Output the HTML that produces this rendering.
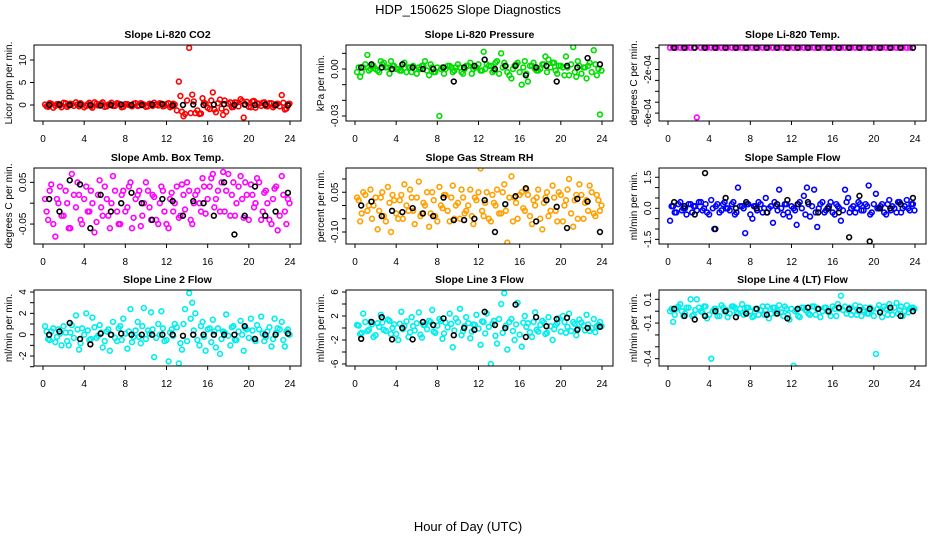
<!DOCTYPE html>
<html><head><meta charset="utf-8"><style>
body{margin:0;background:#fff;}
svg{display:block;font-family:"Liberation Sans",sans-serif;}
</style></head><body>
<svg id="chart" width="936" height="540" viewBox="0 0 936 540" xmlns="http://www.w3.org/2000/svg">
<text x="468" y="14" font-size="13" text-anchor="middle">HDP_150625  Slope Diagnostics</text>
<text x="468" y="531" font-size="13" text-anchor="middle">Hour of Day (UTC)</text>
</svg>
<script>
const hoursColor=[0.2,0.5,0.8,1.2,1.5,1.8,2.2,2.5,2.8,3.2,3.5,3.8,4.2,4.5,4.8,5.2,5.5,5.8,6.2,6.5,6.8,7.2,7.5,7.8,8.2,8.5,8.8,9.2,9.5,9.8,10.2,10.5,10.8,11.2,11.5,11.8,12.2,12.5,12.8,13.2,13.5,13.8,14.2,14.5,14.8,15.2,15.5,15.8,16.2,16.5,16.8,17.2,17.5,17.8,18.2,18.5,18.8,19.2,19.5,19.8,20.2,20.5,20.8,21.2,21.5,21.8,22.2,22.5,22.8,23.2,23.5,23.8];
const hoursDense=[0.35,0.65,1.0,1.35,1.65,2.0,2.35,2.65,3.0,3.35,3.65,4.0,4.35,4.65,5.0,5.35,5.65,6.0,6.35,6.65,7.0,7.35,7.65,8.0,8.35,8.65,9.0,9.35,9.65,10.0,10.35,10.65,11.0,11.35,11.65,12.0,12.35,12.65,13.0,13.35,13.65,14.0,14.35,14.65,15.0,15.35,15.65,16.0,16.35,16.65,17.0,17.35,17.65,18.0,18.35,18.65,19.0,19.35,19.65,20.0,20.35,20.65,21.0,21.35,21.65,22.0,22.35,22.65,23.0,23.35,23.65,23.95];
const hoursBlack=[0.6,1.6,2.6,3.6,4.6,5.6,6.6,7.6,8.6,9.6,10.6,11.6,12.6,13.6,14.6,15.6,16.6,17.6,18.6,19.6,20.6,21.6,22.6,23.8];
const xTicks=[0,4,8,12,16,20,24];

const co2Color=[0.1,-0.4,0.3,-0.2,0.2,-0.5,0.4,-0.1,0.2,0.6,-0.3,0.1,-0.2,0.5,-0.6,0.3,-0.1,0.6,-0.3,0.2,-0.2,0.4,0.1,-0.4,0.2,-0.1,0.3,-0.2,0.4,0.1,-0.3,0.2,0.5,-0.1,0.3,-0.2,0.4,-0.3,0.1,5.2,-1.5,-2.0,12.7,2.3,-1.8,-2.0,1.5,0.3,-0.9,2.8,-1.6,1.2,-2.2,-1.5,0.6,-0.4,0.5,1.3,-2.8,0.7,-0.5,0.9,0.4,-0.2,0.6,-0.3,0.4,-0.2,0.3,2.2,-1.0,0.2];
const co2Dense=[-0.3,0.4,-0.6,0.2,-0.1,0.5,-0.4,0.3,-0.2,0.1,0.4,-0.5,0.2,-0.3,0.6,-0.1,0.3,-0.4,0.1,0.5,-0.2,0.3,-0.5,0.2,0.0,-0.3,0.4,-0.1,0.2,-0.4,0.3,-0.2,0.1,0.4,-0.3,0.2,-0.5,0.3,-1.2,2.0,-2.5,1.0,-1.8,0.8,-1.2,-1.9,0.5,-0.6,1.0,-1.0,0.4,-0.8,1.0,0.3,-0.5,0.6,-0.3,0.9,0.2,-0.4,0.8,-0.6,0.3,0.5,-0.2,0.4,-0.5,0.2,-0.3,0.5,-0.8,0.3];
const co2Black=[0,0.1,0,0.1,0,-0.1,0,0.1,0,0,0.1,0.2,-0.1,0,0.1,0,0.1,0.2,0,0.1,0,0.1,0,-0.1];
const pressColor=[-0.002,-0.005,0.001,0.009,0.000,0.002,-0.001,0.005,0.004,0.001,0.005,0.002,0.000,-0.001,0.004,0.001,-0.002,0.000,0.001,0.002,0.005,-0.004,0.001,-0.002,-0.030,0.001,0.000,0.002,-0.002,0.001,0.001,-0.003,0.002,0.004,0.000,0.001,-0.001,0.011,0.003,0.002,-0.001,0.005,0.010,0.004,-0.002,-0.006,0.002,0.004,-0.010,0.005,-0.008,0.002,0.000,-0.001,0.003,0.008,0.006,0.004,-0.001,0.002,0.001,0.008,-0.004,0.014,-0.005,0.002,0.001,-0.006,0.004,0.012,-0.004,-0.029];
const pressDense=[0.001,-0.002,0.003,-0.001,0.002,0.000,-0.002,0.003,0.001,-0.003,0.002,0.000,-0.001,0.003,-0.002,0.001,0.002,-0.003,0.000,0.002,-0.001,0.003,-0.002,0.001,0.000,-0.003,0.002,0.001,-0.001,0.003,-0.002,0.000,0.002,-0.003,0.001,0.003,-0.001,0.000,0.002,-0.002,0.004,-0.003,0.001,0.002,-0.004,0.000,0.003,-0.002,0.001,-0.003,0.002,0.004,-0.001,0.000,0.003,-0.002,0.001,0.004,-0.003,0.002,-0.004,0.001,0.003,-0.002,0.005,-0.003,0.001,0.002,-0.002,0.003,0.000,-0.001];
const pressBlack=[0.001,0.003,0.001,0.000,0.003,0.001,0.000,0.000,0.001,-0.008,0.001,0.002,0.006,0.000,0.002,0.002,-0.004,0.001,0.002,-0.008,0.002,0.001,0.007,0.003];
const tempColor=[0,0,0,0,0,0,0,0,-0.00064,0,0,0,0,0,0,0,0,0,0,0,0,0,0,0,0,0,0,0,0,0,0,0,0,0,0,0,0,0,0,0,0,0,0,0,0,0,0,0,0,0,0,0,0,0,0,0,0,0,0,0,0,0,0,0,0,0,0,0,0,0,0,0];
const tempDense=[];
const tempBlack=[0,0,0,0,0,0,0,0,0,0,0,0,0,0,0,0,0,0,0,0,0,0,0,0];
const ambColor=[0.01,-0.04,0.045,-0.08,0.0,-0.03,0.03,-0.06,0.07,-0.01,0.02,-0.05,0.04,-0.02,0.0,-0.045,0.055,-0.03,0.01,-0.06,0.065,-0.02,-0.05,0.03,-0.01,0.05,-0.035,0.02,-0.055,0.0,0.03,-0.04,0.015,-0.05,0.04,-0.02,-0.06,0.025,0.0,-0.035,0.045,-0.015,0.03,-0.05,0.02,0.0,0.06,-0.025,0.04,0.07,0.01,-0.02,0.075,0.03,-0.03,0.05,0.0,0.065,-0.035,0.02,0.045,-0.01,0.06,-0.04,0.025,0.0,-0.05,0.035,-0.065,0.065,-0.02,0.01];
const ambDense=[-0.02,0.03,-0.05,0.01,0.04,-0.03,0.0,-0.06,0.02,0.05,-0.04,0.01,-0.02,0.03,-0.07,0.02,-0.01,0.04,-0.03,0.0,0.03,-0.05,0.02,-0.02,0.04,-0.06,0.01,0.03,-0.03,0.05,-0.01,0.02,-0.04,0.0,0.03,-0.05,0.01,-0.02,0.04,-0.03,0.02,0.05,-0.04,0.0,0.03,-0.02,0.04,0.01,0.06,-0.01,0.03,0.05,-0.02,0.07,0.02,-0.03,0.04,0.01,0.05,-0.04,0.02,0.0,0.05,-0.02,0.03,-0.04,0.01,0.04,-0.03,0.02,-0.05,0.0];
const ambBlack=[0.01,-0.02,0.055,0.045,-0.06,0.02,-0.02,0.0,0.025,0.0,-0.04,0.01,0.005,-0.03,0.005,0.0,-0.03,0.05,-0.075,-0.03,0.04,-0.03,-0.02,0.025];
const rhColor=[0.03,-0.06,0.05,-0.02,0.06,0.0,-0.09,0.03,-0.04,0.07,-0.1,0.02,-0.05,0.04,0.08,-0.02,0.03,-0.07,0.09,-0.03,0.0,-0.08,0.05,-0.04,0.07,-0.01,0.04,-0.06,0.075,0.0,-0.05,0.03,-0.02,0.06,-0.07,0.02,0.14,-0.04,0.05,-0.06,0.01,0.06,-0.03,0.08,-0.14,0.11,0.03,-0.05,0.05,-0.02,0.04,-0.07,0.0,0.06,-0.09,0.03,-0.04,0.075,-0.02,0.05,-0.06,0.02,0.1,-0.08,0.04,0.08,-0.05,0.02,0.075,-0.03,0.04,-0.02];
const rhDense=[0.02,-0.03,0.04,0.0,-0.05,0.03,-0.02,0.05,-0.06,0.01,0.04,-0.03,0.02,-0.05,0.0,0.06,-0.02,0.03,-0.04,0.01,0.05,-0.03,0.02,-0.06,0.0,0.04,-0.02,0.03,-0.05,0.01,0.06,-0.03,0.0,-0.04,0.03,0.05,-0.02,0.01,-0.05,0.04,0.0,-0.03,0.05,-0.02,0.03,-0.06,0.01,0.04,-0.01,0.06,-0.04,0.02,0.03,-0.05,0.01,0.05,-0.02,0.03,-0.06,0.04,0.0,0.06,-0.03,0.02,-0.05,0.04,0.01,-0.02,0.05,-0.04,0.02,0.0];
const rhBlack=[0.0,0.015,-0.04,-0.02,-0.025,-0.01,-0.03,-0.04,0.03,-0.055,-0.055,-0.05,0.02,-0.1,0.005,0.035,0.065,-0.06,0.02,-0.005,-0.085,0.025,0.015,-0.1];
const sflowColor=[-0.6,0.1,-0.2,0.3,0.0,-0.3,0.2,0.1,-0.1,0.3,0.0,-0.2,0.4,-1.0,0.2,-0.1,0.3,0.0,0.2,-0.3,1.0,0.1,-1.2,0.2,-0.5,0.1,0.3,-0.2,0.5,0.0,-0.7,0.1,0.9,-0.3,0.2,-0.4,0.0,-0.8,0.3,0.6,1.0,-0.4,0.9,-0.9,0.2,-0.2,0.0,0.3,-0.3,0.1,-0.6,0.9,0.5,0.0,-0.2,0.3,-0.1,0.2,1.1,-0.2,0.7,0.0,0.2,-0.3,0.4,0.1,-0.2,0.3,0.0,0.4,-0.1,0.2];
const sflowDense=[0.1,-0.2,0.2,-0.1,0.0,0.2,-0.2,0.1,0.3,-0.1,0.2,-0.3,0.0,0.1,-0.2,0.2,0.0,-0.1,0.3,-0.2,0.1,0.0,0.2,-0.3,0.1,-0.1,0.2,0.0,-0.2,0.1,0.3,-0.1,0.0,0.2,-0.2,0.1,-0.1,0.2,0.0,-0.3,0.2,0.1,-0.2,0.0,0.3,-0.1,0.1,-0.2,0.2,0.0,-0.1,0.3,-0.2,0.1,0.0,0.2,-0.1,0.1,-0.3,0.2,0.0,0.1,-0.2,0.2,-0.1,0.0,0.3,-0.2,0.1,0.0,0.2,-0.1];
const sflowBlack=[0.3,0.1,-0.3,1.7,-1.0,0.5,0.0,0.3,0.0,-0.2,0.2,0.4,0.2,0.3,-0.2,0.0,-0.2,-1.4,0.6,-1.6,0.0,0.0,0.2,0.5];
const line2Color=[0.8,-0.4,0.3,-0.7,0.5,-1.0,0.2,-1.0,0.9,1.8,-1.4,0.6,2.0,-0.5,1.6,-0.3,0.9,-1.2,0.3,-1.5,1.2,-0.6,0.8,1.5,-1.3,2.4,-0.2,1.2,-0.8,2.5,0.4,2.1,-2.1,1.0,2.2,-0.6,-2.5,0.5,1.0,-2.7,-1.4,2.4,3.9,3.0,2.0,-1.0,1.2,-1.5,0.6,1.4,-1.2,-1.8,0.3,1.9,-1.0,0.8,-0.5,1.3,-1.5,0.5,1.5,-0.4,0.9,1.7,-0.6,0.3,-1.1,1.5,0.6,1.2,-1.1,0.5];
const line2Dense=[0.3,-0.5,0.6,-0.2,0.1,0.8,-0.6,0.2,-0.3,0.5,-0.8,0.0,0.4,-0.4,0.7,-0.1,0.2,-0.6,0.5,0.0,-0.3,0.6,-0.5,0.1,0.3,-0.7,0.4,-0.2,0.8,-0.4,0.1,0.5,-0.3,0.0,0.6,-0.5,0.2,-0.1,0.7,-0.8,1.0,-0.6,1.5,0.4,-0.5,0.8,-0.2,0.5,-0.7,0.3,0.6,-0.4,0.2,-0.1,0.7,-0.5,0.3,0.0,0.6,-0.3,0.4,-0.6,0.5,0.1,-0.2,0.7,-0.4,0.2,0.5,-0.5,0.3,0.0];
const line2Black=[0.0,0.3,1.1,-0.4,-0.9,0.1,0.0,0.1,0.0,0.0,0.0,0.0,0.0,-0.1,0.0,0.0,0.0,0.0,0.0,0.8,-0.4,0.0,0.0,0.1];
const line3Color=[0.5,-1.0,2.4,-0.5,1.0,-1.5,0.8,2.2,-0.3,1.4,-1.0,0.6,-2.0,2.7,0.3,-1.5,1.8,-0.4,2.6,-1.6,0.5,1.2,3.0,-0.8,1.5,-1.8,0.9,2.4,-3.2,1.6,3.2,-0.5,1.8,-1.7,0.6,2.2,-2.8,1.0,2.4,-6.0,1.2,-2.6,4.0,5.8,-3.6,1.5,-2.0,4.2,-3.1,2.0,0.8,-1.5,2.6,-0.6,1.2,-1.0,1.8,-2.0,0.5,1.6,2.0,-0.8,2.4,1.0,-1.2,1.4,0.4,2.2,-0.5,1.5,0.3,1.0];
const line3Dense=[0.4,-0.8,1.0,-0.3,0.6,-1.2,0.2,0.9,-0.5,1.2,0.0,-1.0,0.7,-0.2,1.1,-0.7,0.3,0.8,-1.1,0.5,-0.2,1.0,-0.6,0.4,1.2,-0.9,0.1,0.7,-0.4,1.0,-1.2,0.3,0.8,-0.6,0.5,-0.1,1.1,-0.9,0.2,0.7,-1.3,1.5,-0.8,0.4,1.0,-0.5,0.6,-1.1,0.9,0.2,-0.7,1.0,-0.3,0.5,0.9,-0.8,0.3,-0.2,0.8,-0.6,1.0,0.2,-0.5,0.7,-0.1,0.9,-0.4,0.6,0.0,-0.7,0.5,0.3];
const line3Black=[-1.8,1.0,1.8,-1.9,0.0,-1.9,1.0,0.5,1.6,-1.2,0.0,-0.3,2.7,0.5,0.0,3.9,-1.5,1.8,0.3,1.5,1.7,-0.3,0.0,0.2];
const line4Color=[0.0,-0.09,0.02,0.06,-0.04,0.03,0.1,-0.03,0.1,0.0,0.04,-0.06,-0.4,0.02,-0.04,0.05,0.0,-0.05,0.04,0.03,-0.02,0.06,-0.01,0.03,-0.05,0.02,-0.03,0.04,0.01,-0.06,0.03,-0.02,0.05,-0.04,0.02,-0.07,-0.46,0.01,-0.05,0.03,0.0,-0.03,0.04,0.02,-0.05,0.03,0.0,-0.04,0.02,0.06,0.13,0.04,0.01,-0.03,0.05,0.0,-0.04,0.03,-0.02,0.01,-0.36,0.05,-0.05,0.02,0.06,-0.03,0.07,0.01,-0.04,0.05,0.02,0.03];
const line4Dense=[0.02,-0.03,0.04,0.0,-0.02,0.03,-0.04,0.01,0.03,-0.01,0.04,-0.03,0.0,0.02,-0.04,0.03,0.01,-0.02,0.04,-0.01,0.02,-0.03,0.03,0.0,-0.04,0.02,0.01,-0.03,0.04,-0.02,0.03,0.0,-0.01,0.04,-0.03,0.02,0.0,-0.04,0.03,0.01,-0.02,0.04,-0.03,0.02,0.0,0.03,-0.01,0.04,-0.04,0.02,0.01,-0.02,0.03,0.0,-0.03,0.04,0.01,-0.02,0.03,-0.04,0.02,0.0,0.04,-0.03,0.01,0.03,-0.02,0.04,0.0,-0.01,0.03,0.02];
const line4Black=[0.02,-0.04,-0.07,-0.04,0.0,0.0,-0.05,-0.02,0.02,-0.03,-0.02,-0.06,0.02,0.03,0.02,0.0,0.03,0.02,0.01,0.02,-0.01,0.03,-0.04,0.0];

const co2Ticks=[0,5,10], co2Labels=["0","5","10"];
const pressTicks=[0.01,0,-0.01,-0.02,-0.03], pressLabels=["","0.00","","","-0.03"];
const tempTicks=[0,-0.0001,-0.0002,-0.0003,-0.0004,-0.0005,-0.0006], tempLabels=["","","-2e-04","","","","-6e-04"];
const ambTicks=[0.05,0,-0.05], ambLabels=["0.05","","-0.05"];
const rhTicks=[0.1,0.05,0,-0.05,-0.1], rhLabels=["","0.05","","","-0.10"];
const sflowTicks=[1.5,1,0.5,0,-0.5,-1,-1.5], sflowLabels=["1.5","","","0.0","","","-1.5"];
const line2Ticks=[4,3,2,1,0,-1,-2,-3], line2Labels=["4","","2","","0","","-2",""];
const line3Ticks=[6,4,2,0,-2,-4,-6], line3Labels=["6","","2","","-2","","-6"];
const line4Ticks=[0.1,0,-0.1,-0.2,-0.3,-0.4], line4Labels=["0.1","","-0.1","","","-0.4"];

const svg=document.getElementById('chart');
const NS='http://www.w3.org/2000/svg';
function mk(tag,attrs,parent){const e=document.createElementNS(NS,tag);for(const k in attrs)e.setAttribute(k,attrs[k]);(parent||svg).appendChild(e);return e;}

const panels=[
 {name:'co2',title:'Slope Li-820 CO2',ylab:'Licor ppm per min.',L:34,T:45,y0:105,k:4.5,col:'#ff0000',c:co2Color,d:co2Dense,b:co2Black,t:co2Ticks,tl:co2Labels},
 {name:'pressure',title:'Slope Li-820 Pressure',ylab:'kPa per min.',L:346,T:45,y0:69,k:1566.7,col:'#00dd00',c:pressColor,d:pressDense,b:pressBlack,t:pressTicks,tl:pressLabels},
 {name:'temp',title:'Slope Li-820 Temp.',ylab:'degrees C per min.',L:659,T:45,y0:47.7,k:109000,col:'#ff00ff',c:tempColor,d:tempDense,b:tempBlack,t:tempTicks,tl:tempLabels},
 {name:'amb-box-temp',title:'Slope Amb. Box Temp.',ylab:'degrees C per min.',L:34,T:168,y0:203.2,k:417,col:'#ff00ff',c:ambColor,d:ambDense,b:ambBlack,t:ambTicks,tl:ambLabels},
 {name:'gas-stream-rh',title:'Slope Gas Stream RH',ylab:'percent per min.',L:346,T:168,y0:205.5,k:265,col:'#ffa000',c:rhColor,d:rhDense,b:rhBlack,t:rhTicks,tl:rhLabels},
 {name:'sample-flow',title:'Slope Sample Flow',ylab:'ml/min per min.',L:659,T:168,y0:208.3,k:20.7,col:'#0000ff',c:sflowColor,d:sflowDense,b:sflowBlack,t:sflowTicks,tl:sflowLabels},
 {name:'line2-flow',title:'Slope Line 2 Flow',ylab:'ml/min per min.',L:34,T:290,y0:334.7,k:10.67,col:'#00eeee',c:line2Color,d:line2Dense,b:line2Black,t:line2Ticks,tl:line2Labels},
 {name:'line3-flow',title:'Slope Line 3 Flow',ylab:'ml/min per min.',L:346,T:290,y0:328,k:6,col:'#00eeee',c:line3Color,d:line3Dense,b:line3Black,t:line3Ticks,tl:line3Labels},
 {name:'line4-flow',title:'Slope Line 4 (LT) Flow',ylab:'ml/min per min.',L:659,T:290,y0:311.2,k:118.7,col:'#00eeee',c:line4Color,d:line4Dense,b:line4Black,t:line4Ticks,tl:line4Labels}
];
const W=267,H=76;
panels.forEach(p=>{
  const g=mk('g',{});
  
  
  const xs=v=>p.L+9+v*247/24;
  const ys=v=>p.y0-v*p.k;
  const cp=mk('clipPath',{id:'clip-'+p.name},g);
  mk('rect',{x:p.L,y:p.T,width:W,height:H},cp);
  const pts=mk('g',{'clip-path':'url(#clip-'+p.name+')'},g);
  p.d.forEach((v,i)=>{
    if(hoursDense[i]===undefined) return;
    const c=mk('circle',{cx:xs(hoursDense[i]),cy:ys(v),r:2.4,fill:'none',stroke:p.col,'stroke-width':1.6},pts);
    
    
  });
  p.c.forEach((v,i)=>{
    const c=mk('circle',{cx:xs(hoursColor[i]),cy:ys(v),r:2.4,fill:'none',stroke:p.col,'stroke-width':1.6},pts);
    
    
  });
  p.b.forEach((v,i)=>{
    const c=mk('circle',{cx:xs(hoursBlack[i]),cy:ys(v),r:2.4,fill:'none',stroke:'#000','stroke-width':1.6},pts);
    
    
  });
  const box=mk('rect',{x:p.L,y:p.T,width:W,height:H,fill:'none',stroke:'#000','stroke-width':1},g);
  
  
  const tt=mk('text',{x:p.L+W/2,y:p.T-7,'font-size':10.5,'font-weight':'bold','text-anchor':'middle'},g);
  tt.textContent=p.title;
  
  
  const B=p.T+H;
  mk('line',{x1:xs(0),x2:xs(24),y1:B,y2:B,stroke:'#000'},g);
  xTicks.forEach(v=>{
    mk('line',{x1:xs(v),x2:xs(v),y1:B,y2:B+4,stroke:'#000'},g);
    const t=mk('text',{x:xs(v),y:B+21,'font-size':10,'text-anchor':'middle'},g);
    t.textContent=v;
    
    
  });
  p.t.forEach((v,i)=>{
    const y=ys(v);
    mk('line',{x1:p.L-4,x2:p.L,y1:y,y2:y,stroke:'#000'},g);
    if(p.tl[i]){
      const t=mk('text',{x:p.L-8,y:y,'font-size':10,'text-anchor':'middle',transform:'rotate(-90 '+(p.L-8)+' '+y+')'},g);
      t.textContent=p.tl[i];
      
      
    }
  });
  const yc=p.T+H/2, yx=p.L-22;
  const yl=mk('text',{x:yx,y:yc,'font-size':10,'text-anchor':'middle',transform:'rotate(-90 '+yx+' '+yc+')'},g);
  yl.textContent=p.ylab;
  
  
});
</script>
</body></html>
